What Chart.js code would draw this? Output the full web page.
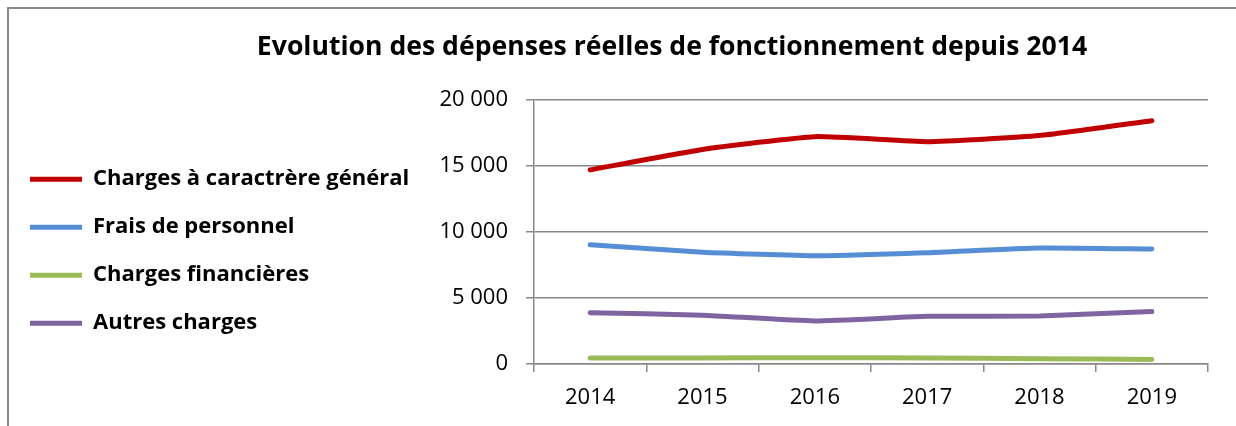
<!DOCTYPE html>
<html>
<head>
<meta charset="utf-8">
<script src="https://cdn.jsdelivr.net/npm/chart.js@4"></script>
<style>
    html, body { margin: 0; padding: 0; background: #fff; }
    #wrap { position: relative; width: 1236px; height: 426px; }
    #frame {
        position: absolute; left: 7px; top: 7px; right: -5px; bottom: -5px;
        border-left: 2px solid #8a8a8a; border-top: 2px solid #8a8a8a;
        pointer-events: none;
    }
</style>
</head>
<body>
<div id="wrap">
    <canvas id="chart1"></canvas>
    <div id="frame"></div>
</div>
<script>
const years = ["2014", "2015", "2016", "2017", "2018", "2019"];
const chargesGenerales = [14700, 16250, 17220, 16840, 17300, 18430];
const fraisPersonnel = [9040, 8460, 8200, 8430, 8790, 8710];
const chargesFinancieres = [460, 460, 470, 460, 400, 350];
const autresCharges = [3890, 3690, 3260, 3610, 3640, 3970];
const yTicks = [0, 5000, 10000, 15000, 20000];

const fontFamily = "'Open Sans', Lato, sans-serif";
const gridColor = "#888888";

const line = (label, data, color) => ({
    label,
    data,
    borderColor: color,
    backgroundColor: color,
    borderWidth: 5,
    borderCapStyle: "round",
    borderJoinStyle: "round",
    pointRadius: 0,
    tension: 0.15,
});

const formatThousands = (v) => String(v).replace(/\B(?=(\d{3})+(?!\d))/g, " ");

// Excel puts the title a bit right of the middle
const shiftTitle = {
    id: "shiftTitle",
    afterLayout(chart) {
        chart.titleBlock.left += 132;
    },
};

new Chart(document.getElementById("chart1"), {
    type: "line",
    data: {
        labels: years,
        datasets: [
            line("Charges à caractrère général", chargesGenerales, "#c00000"),
            line("Frais de personnel", fraisPersonnel, "#558ed5"),
            line("Charges financières", chargesFinancieres, "#9bbb59"),
            line("Autres charges", autresCharges, "#8064a2"),
        ],
    },
    plugins: [shiftTitle],
    options: {
        responsive: true,
        maintainAspectRatio: false,
        animation: false,
        layout: { padding: { left: 4, right: 28, top: 0, bottom: 0 } },
        plugins: {
            title: {
                display: true,
                text: "Evolution des dépenses réelles de fonctionnement depuis 2014",
                color: "#000",
                font: { family: fontFamily, size: 26.6, weight: "bold" },
                padding: { top: 31, bottom: 37 },
            },
            legend: {
                position: "left",
                align: "center",
                maxWidth: 406,
                title: {
                    display: true,
                    text: " ",
                    font: { size: 12 },
                    padding: { top: 0, bottom: 62 },
                },
                labels: {
                    usePointStyle: true,
                    pointStyle: "line",
                    pointStyleWidth: 52,
                    padding: 26,
                    color: "#000",
                    font: { family: fontFamily, size: 22, weight: "bold" },
                },
            },
            tooltip: { enabled: false },
        },
        scales: {
            x: {
                offset: true,
                afterFit(scale) {
                    scale.height = 62;
                },
                grid: {
                    offset: true,
                    drawOnChartArea: false,
                    drawTicks: true,
                    tickLength: 8,
                    color: gridColor,
                    lineWidth: 1.5,
                },
                border: { display: true, color: gridColor, width: 1.5 },
                ticks: {
                    color: "#000",
                    padding: 13,
                    font: { family: fontFamily, size: 22 },
                },
            },
            y: {
                min: 0,
                max: 20000,
                afterFit(scale) {
                    scale.width = 124;
                },
                afterBuildTicks(scale) {
                    scale.ticks = yTicks.map((v) => ({ value: v }));
                },
                grid: {
                    color: gridColor,
                    lineWidth: 1.5,
                    tickLength: 8,
                },
                border: { display: true, color: gridColor, width: 1.5 },
                ticks: {
                    color: "#000",
                    padding: 18,
                    font: { family: fontFamily, size: 22 },
                    callback: (v) => formatThousands(v),
                },
            },
        },
    },
});
</script>
</body>
</html>
